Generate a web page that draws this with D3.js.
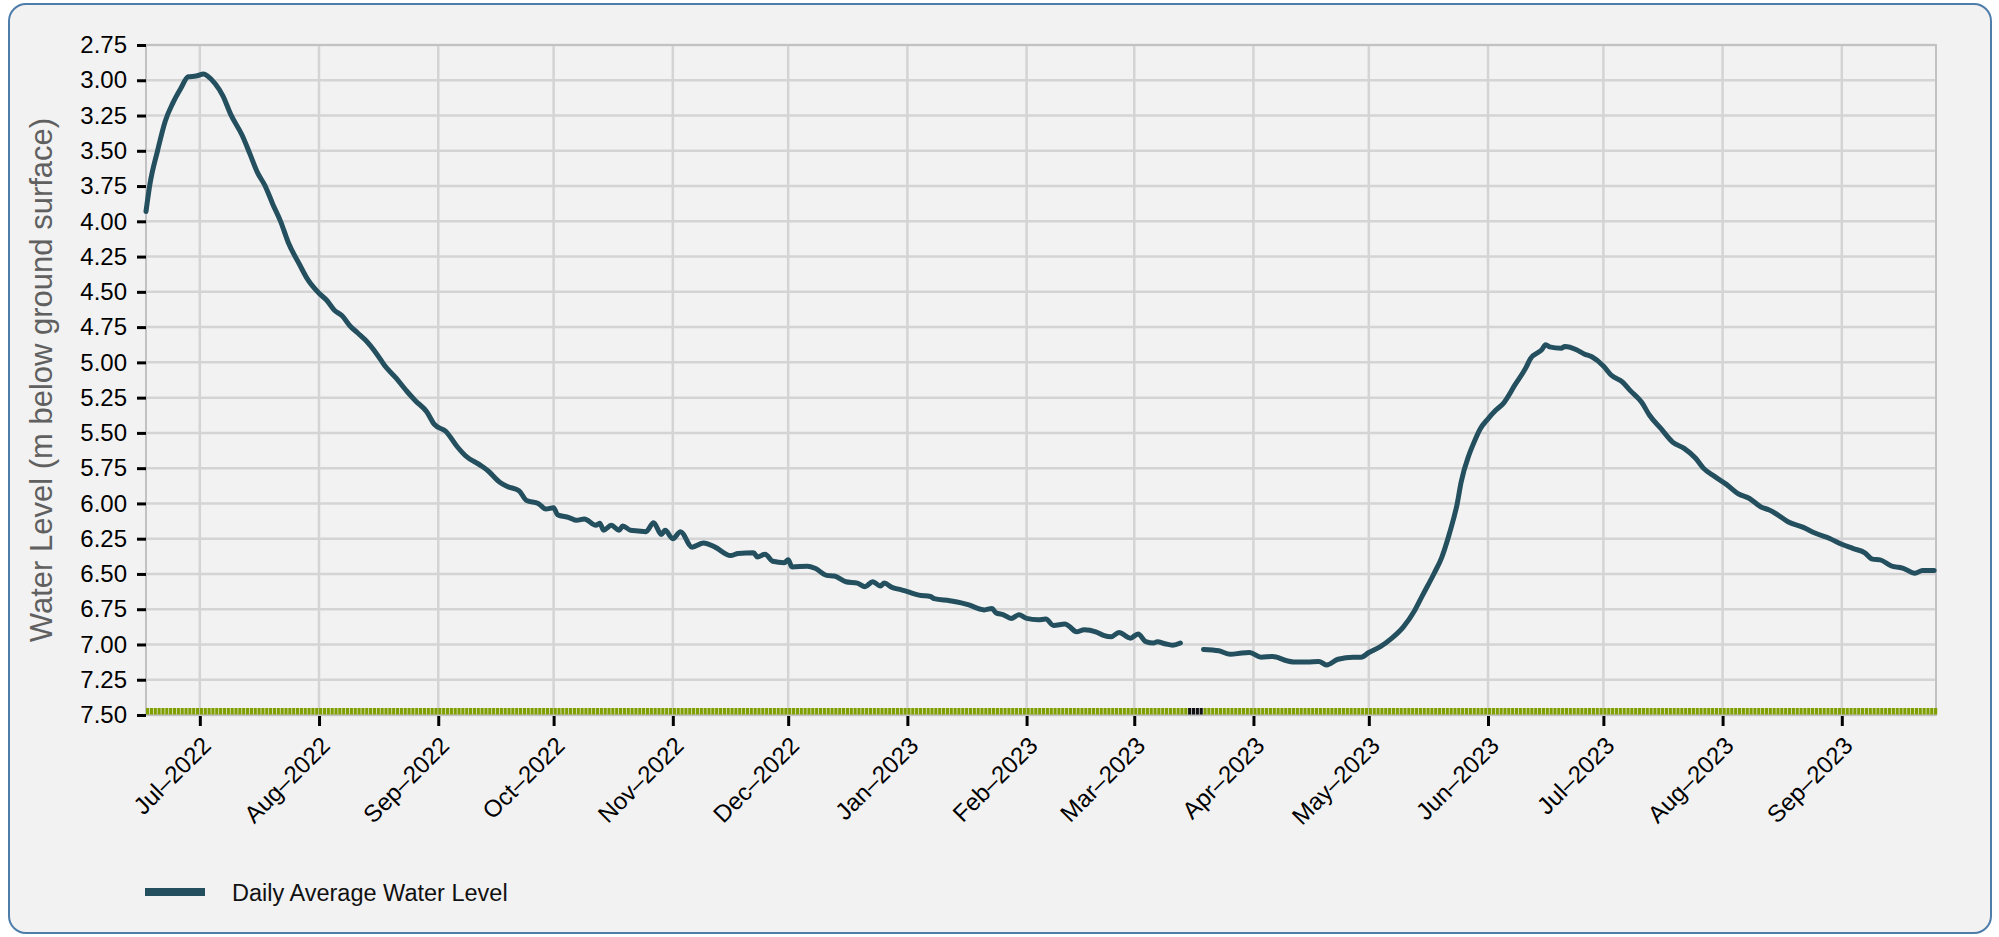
<!DOCTYPE html>
<meta charset="utf-8">
<style>
body { margin: 0; background: #fff; }
.card {
  position: absolute;
  left: 8px; top: 3px;
  width: 1984px; height: 931px;
  box-sizing: border-box;
  border: 2px solid #4f7dab;
  border-radius: 18px;
  background: #f2f2f2;
}
svg { position: absolute; top: 0; left: 0; }
text { font-family: "Liberation Sans", Arial, sans-serif; }
</style>
<div class="card"></div>
<svg width="1999" height="937"></svg>
<script src="https://d3js.org/d3.v7.min.js"></script>
<script>

// daily average water level (m below ground surface)
var dates = [
  "2022-06-17","2022-06-18","2022-06-20","2022-06-22","2022-06-24","2022-06-26","2022-06-28","2022-06-30",
  "2022-07-02","2022-07-03","2022-07-05","2022-07-07","2022-07-09","2022-07-12","2022-07-14","2022-07-16","2022-07-18",
  "2022-07-20","2022-07-22","2022-07-24","2022-07-27","2022-07-29",
  "2022-08-01","2022-08-03","2022-08-05","2022-08-07","2022-08-09","2022-08-11","2022-08-13","2022-08-16","2022-08-18",
  "2022-08-21","2022-08-24","2022-08-26","2022-08-29","2022-08-31",
  "2022-09-03","2022-09-06","2022-09-08","2022-09-12","2022-09-14","2022-09-17","2022-09-19","2022-09-22","2022-09-24",
  "2022-09-27","2022-09-29",
  "2022-10-01","2022-10-02","2022-10-05","2022-10-07","2022-10-09","2022-10-12","2022-10-13","2022-10-14","2022-10-16",
  "2022-10-18","2022-10-19","2022-10-21","2022-10-23","2022-10-25","2022-10-27","2022-10-29","2022-10-30",
  "2022-11-01","2022-11-03","2022-11-06","2022-11-09","2022-11-12","2022-11-16","2022-11-18","2022-11-22","2022-11-23",
  "2022-11-25","2022-11-27","2022-11-30",
  "2022-12-01","2022-12-02","2022-12-06","2022-12-08","2022-12-11","2022-12-13","2022-12-16","2022-12-19","2022-12-21",
  "2022-12-23","2022-12-25","2022-12-26","2022-12-28","2022-12-30",
  "2023-01-01","2023-01-04","2023-01-07","2023-01-08","2023-01-12","2023-01-15","2023-01-17","2023-01-20","2023-01-21",
  "2023-01-23","2023-01-24","2023-01-26","2023-01-28","2023-01-30",
  "2023-02-01","2023-02-04","2023-02-06","2023-02-08","2023-02-11","2023-02-12","2023-02-14","2023-02-16","2023-02-19",
  "2023-02-21","2023-02-23","2023-02-25","2023-02-28",
  "2023-03-02","2023-03-04","2023-03-06","2023-03-07","2023-03-09","2023-03-11","2023-03-13","2023-03-16",
  "2023-03-19","2023-03-23","2023-03-26","2023-03-29","2023-03-31",
  "2023-04-03","2023-04-06","2023-04-07","2023-04-09","2023-04-12","2023-04-15","2023-04-18","2023-04-20","2023-04-23",
  "2023-04-27","2023-04-29",
  "2023-05-01","2023-05-04","2023-05-07","2023-05-10","2023-05-13","2023-05-15","2023-05-18","2023-05-20","2023-05-22",
  "2023-05-24","2023-05-25","2023-05-27","2023-05-28","2023-05-30",
  "2023-06-01","2023-06-03","2023-06-05","2023-06-08","2023-06-11","2023-06-12","2023-06-15","2023-06-16","2023-06-17",
  "2023-06-20","2023-06-21","2023-06-24","2023-06-26","2023-06-28",
  "2023-07-01","2023-07-03","2023-07-06","2023-07-08","2023-07-11","2023-07-13","2023-07-16","2023-07-19","2023-07-22",
  "2023-07-25","2023-07-27","2023-07-30",
  "2023-08-02","2023-08-05","2023-08-08","2023-08-11","2023-08-13","2023-08-15","2023-08-18","2023-08-22","2023-08-25",
  "2023-08-29",
  "2023-09-01","2023-09-04","2023-09-07","2023-09-09","2023-09-11","2023-09-14","2023-09-15","2023-09-17","2023-09-20",
  "2023-09-22","2023-09-25"
];

var levels = [
  3.93, 3.74, 3.50, 3.29, 3.16, 3.06, 2.975, 2.97,
  2.955, 2.97, 3.025, 3.11, 3.24, 3.39, 3.52, 3.655, 3.75,
  3.88, 4.00, 4.15, 4.31, 4.41,
  4.51, 4.56, 4.63, 4.67, 4.74, 4.79, 4.84, 4.94, 5.02,
  5.11, 5.21, 5.27, 5.35, 5.44,
  5.49, 5.60, 5.66, 5.73, 5.77, 5.85, 5.88, 5.91, 5.98,
  6.00, 6.04,
  6.03, 6.08, 6.10, 6.12, 6.11, 6.155, 6.14, 6.19, 6.155,
  6.19, 6.16, 6.19, 6.195, 6.20, 6.137, 6.22, 6.19,
  6.25, 6.20, 6.31, 6.28, 6.31, 6.37, 6.355, 6.35, 6.38,
  6.36, 6.41, 6.42,
  6.40, 6.45, 6.445, 6.46, 6.51, 6.515, 6.555, 6.565, 6.59,
  6.555, 6.585, 6.565, 6.595, 6.61,
  6.625, 6.65, 6.66, 6.675, 6.69, 6.705, 6.72, 6.75, 6.755,
  6.745, 6.775, 6.79, 6.815, 6.79,
  6.815, 6.825, 6.82, 6.865, 6.855, 6.87, 6.91, 6.895, 6.91,
  6.935, 6.945, 6.915, 6.955,
  6.925, 6.98, 6.99, 6.98, 6.995, 7.005, 6.99, null,
  7.035, 7.045, 7.07, 7.06, 7.057,
  7.09, 7.085, 7.09, 7.11, 7.125, 7.125, 7.12, 7.145, 7.105,
  7.09, 7.09,
  7.057, 7.015, 6.955, 6.875, 6.755, 6.65, 6.495, 6.38, 6.21,
  6.00, 5.85, 5.66, 5.59, 5.47,
  5.40, 5.34, 5.29, 5.16, 5.03, 4.975, 4.91, 4.875, 4.89,
  4.90, 4.887, 4.91, 4.94, 4.96,
  5.025, 5.09, 5.14, 5.20, 5.285, 5.375, 5.47, 5.565, 5.61,
  5.68, 5.75, 5.81,
  5.865, 5.93, 5.965, 6.025, 6.045, 6.075, 6.13, 6.17, 6.21,
  6.25,
  6.29, 6.32, 6.35, 6.395, 6.40, 6.445, 6.45, 6.46, 6.495,
  6.475, 6.475
];

// days flagged as missing on the grade strip
var missingDays = ["2023-03-15", "2023-03-16", "2023-03-17", "2023-03-18"];

var yTicks = [2.75, 3.00, 3.25, 3.50, 3.75, 4.00, 4.25, 4.50, 4.75, 5.00, 5.25, 5.50,
              5.75, 6.00, 6.25, 6.50, 6.75, 7.00, 7.25, 7.50];

var startDate = "2022-06-17", endDate = "2023-09-25T12:00";
var seriesName = "Daily Average Water Level";
var yTitle = "Water Level (m below ground surface)";

var svg = d3.select("svg"),
    margin = {left: 146, right: 63, top: 45, bottom: 222},
    width = +svg.attr("width"),
    height = +svg.attr("height"),
    plotW = width - margin.left - margin.right,
    plotH = height - margin.top - margin.bottom;

var parse = d3.isoParse;
var data = dates.map(function(d, i) { return {date: parse(d), v: levels[i]}; });

var x = d3.scaleTime()
    .domain([parse(startDate), parse(endDate)])
    .range([0, plotW]);

var y = d3.scaleLinear()
    .domain([2.75, 7.5])
    .range([0, plotH]);

var g = svg.append("g")
    .attr("transform", "translate(" + margin.left + "," + margin.top + ")");

var months = d3.timeMonth.range(d3.timeMonth.ceil(x.domain()[0]), x.domain()[1]);

// grid
g.append("g").selectAll("line")
  .data(yTicks)
  .enter().append("line")
    .attr("x1", 0).attr("x2", plotW)
    .attr("y1", function(d) { return y(d); })
    .attr("y2", function(d) { return y(d); })
    .attr("stroke", "#d4d4d4").attr("stroke-width", 2.5);

g.append("g").selectAll("line")
  .data(months)
  .enter().append("line")
    .attr("x1", function(d) { return x(d); })
    .attr("x2", function(d) { return x(d); })
    .attr("y1", 0).attr("y2", plotH)
    .attr("stroke", "#d4d4d4").attr("stroke-width", 2.5);

g.append("rect")
    .attr("width", plotW).attr("height", plotH)
    .attr("fill", "none")
    .attr("stroke", "#c2c2c2").attr("stroke-width", 2);

// y axis
var yAxis = d3.axisLeft(y)
    .tickValues(yTicks)
    .tickFormat(d3.format(".2f"))
    .tickSize(9)
    .tickPadding(10);

var ya = g.append("g").call(yAxis);
ya.select(".domain").remove();
ya.selectAll(".tick line").attr("stroke", "#000").attr("stroke-width", 3);
ya.selectAll(".tick text")
    .attr("font-size", 24)
    .attr("fill", "#000")
    .attr("font-family", "Liberation Sans, Arial, sans-serif");

// x axis
var xAxis = d3.axisBottom(x)
    .tickValues(months)
    .tickFormat(d3.timeFormat("%b\u2013%Y"))
    .tickSize(10);

var xa = g.append("g")
    .attr("transform", "translate(0," + (plotH + 1) + ")")
    .call(xAxis);
xa.select(".domain").remove();
xa.selectAll(".tick line").attr("stroke", "#000").attr("stroke-width", 3);
xa.selectAll(".tick text")
    .attr("font-size", 24)
    .attr("fill", "#000")
    .attr("font-family", "Liberation Sans, Arial, sans-serif")
    .attr("text-anchor", "end")
    .attr("dy", null)
    .attr("y", null)
    .attr("transform", "translate(12,31) rotate(-45)");

// y title
svg.append("text")
    .attr("transform", "translate(52," + (margin.top + plotH / 2) + ") rotate(-90)")
    .attr("text-anchor", "middle")
    .attr("font-size", 31)
    .attr("fill", "#606060")
    .text(yTitle);

// water level line
var line = d3.line()
    .defined(function(d) { return d.v != null; })
    .x(function(d) { return x(d.date); })
    .y(function(d) { return y(d.v); })
    .curve(d3.curveMonotoneX);

g.append("path")
    .datum(data)
    .attr("fill", "none")
    .attr("stroke", "#234f5e")
    .attr("stroke-width", 5)
    .attr("stroke-linejoin", "round")
    .attr("stroke-linecap", "round")
    .attr("d", line);

// grade strip along the bottom
var days = d3.timeDay.range(x.domain()[0], x.domain()[1]);
var missing = new Set(missingDays);
var fmt = d3.timeFormat("%Y-%m-%d");
var dayW = x(d3.timeDay.offset(days[0], 1)) - x(days[0]);

g.append("g").selectAll("rect")
  .data(days)
  .enter().append("rect")
    .attr("x", function(d) { return x(d); })
    .attr("y", plotH - 7)
    .attr("width", dayW - 0.7)
    .attr("height", 6.5)
    .attr("fill", function(d) { return missing.has(fmt(d)) ? "#111" : "#7f9f00"; });

// legend
var legend = svg.append("g").attr("transform", "translate(145,892)");
legend.append("line")
    .attr("x1", 0).attr("x2", 60)
    .attr("stroke", "#234f5e").attr("stroke-width", 8);
legend.append("text")
    .attr("x", 87).attr("y", 9)
    .attr("font-size", 23.5)
    .attr("fill", "#111")
    .text(seriesName);

</script>
